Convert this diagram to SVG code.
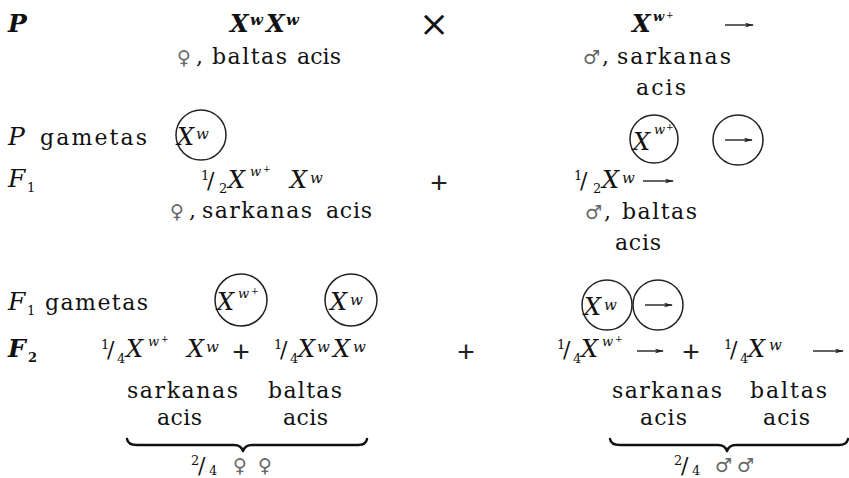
<svg xmlns="http://www.w3.org/2000/svg" width="849" height="478" viewBox="0 0 849 478">
<style>
text{fill:#111;font-family:"DejaVu Serif",serif}
.t{font-size:22px;letter-spacing:0}
.x{font-size:24px;font-style:italic}
.xb{font-size:24px;font-style:italic;font-weight:bold}
.w{font-size:15px;font-style:italic}
.ws{font-size:13px;font-style:italic}
.pl{font-size:9px}
.d{font-size:13px}
.lab{font-size:25px;font-style:italic}
.sym{font-family:"DejaVu Sans",sans-serif;font-size:19px;fill:#666}
.op{font-family:"Liberation Sans",sans-serif;font-size:30px;text-anchor:middle;fill:#222}
.c{fill:none;stroke:#222;stroke-width:1.5}
.ar{stroke:#222;stroke-width:1.4;fill:none}
.br{fill:none;stroke:#111;stroke-width:2.4;stroke-linecap:round;stroke-linejoin:round}
</style>
<defs>
<marker id="ah" markerUnits="userSpaceOnUse" markerWidth="9" markerHeight="6" refX="8" refY="3" orient="auto"><path d="M0,0.8 L9,3 L0,5.2 L2,3 Z" fill="#222"/></marker>
</defs>

<g id="row-p">
<text class="lab" x="8" y="32" font-weight="bold" font-size="26">P</text>
<text class="xb" x="230" y="32">X</text><text class="w" x="250" y="25" font-weight="bold">w</text>
<text class="xb" x="266" y="32">X</text><text class="w" x="286" y="25" font-weight="bold">w</text>
<text x="434" y="36" font-family="Liberation Serif, serif" font-size="36" text-anchor="middle" fill="#444">×</text>
<text class="xb" x="632" y="32">X</text><text class="ws" x="653" y="21" font-weight="bold">w</text><text class="pl" x="666" y="18">+</text>
<line class="ar" x1="725" y1="25" x2="753" y2="25" marker-end="url(#ah)"/>
</g>

<g id="p-female">
<text class="sym" x="177" y="64">♀</text><text class="t" x="196" y="64">,</text>
<text class="t" x="212" y="64" textLength="75" lengthAdjust="spacing">baltas</text>
<text class="t" x="297" y="64" textLength="44" lengthAdjust="spacing">acis</text>
</g>
<g id="p-male">
<text class="sym" x="583" y="64">♂</text><text class="t" x="602" y="64">,</text>
<text class="t" x="617" y="64" textLength="114" lengthAdjust="spacing">sarkanas</text>
<text class="t" x="636" y="95" textLength="50" lengthAdjust="spacing">acis</text>
</g>

<g id="p-gametes">
<text class="lab" x="8" y="145">P</text>
<text class="t" x="40" y="145" textLength="107" lengthAdjust="spacing">gametas</text>
<circle class="c" cx="201" cy="135" r="25"/>
<text class="x" x="177" y="145">X</text><text class="w" x="196" y="139">w</text>
<circle class="c" cx="654" cy="139" r="24"/>
<text class="x" x="633" y="150">X</text><text class="ws" x="654" y="134">w</text><text class="pl" x="666" y="130">+</text>
<circle class="c" cx="738" cy="140" r="25"/>
<line class="ar" x1="725" y1="140" x2="752" y2="140" marker-end="url(#ah)"/>
</g>

<g id="row-f1">
<text class="lab" x="8" y="187">F</text><text class="d" x="27" y="192">1</text>
<text class="d" x="201" y="180">1</text><text class="t" x="207" y="188">/</text><text class="d" x="219" y="193">2</text>
<text class="x" x="228" y="188">X</text><text class="ws" x="250" y="176">w</text><text class="pl" x="263" y="172">+</text>
<text class="x" x="290" y="188">X</text><text class="w" x="310" y="183">w</text>
<text class="op" x="439" y="193">+</text>
<text class="d" x="574" y="180">1</text><text class="t" x="580" y="188">/</text><text class="d" x="593" y="193">2</text>
<text class="x" x="602" y="188">X</text><text class="w" x="622" y="183">w</text>
<line class="ar" x1="643" y1="181" x2="673" y2="181" marker-end="url(#ah)"/>
</g>

<g id="f1-female">
<text class="sym" x="170" y="218">♀</text><text class="t" x="189" y="218">,</text>
<text class="t" x="202" y="218" textLength="110" lengthAdjust="spacing">sarkanas</text>
<text class="t" x="326" y="218" textLength="46" lengthAdjust="spacing">acis</text>
</g>
<g id="f1-male">
<text class="sym" x="585" y="219">♂</text><text class="t" x="604" y="219">,</text>
<text class="t" x="622" y="219" textLength="75" lengthAdjust="spacing">baltas</text>
<text class="t" x="615" y="250" textLength="46" lengthAdjust="spacing">acis</text>
</g>

<g id="f1-gametes">
<text class="lab" x="8" y="310">F</text><text class="d" x="27" y="315">1</text>
<text class="t" x="45" y="310" textLength="103" lengthAdjust="spacing">gametas</text>
<circle class="c" cx="241" cy="300" r="26"/>
<text class="x" x="217" y="310">X</text><text class="ws" x="238" y="298">w</text><text class="pl" x="251" y="294">+</text>
<circle class="c" cx="351" cy="300" r="26"/>
<text class="x" x="330" y="310">X</text><text class="w" x="350" y="305">w</text>
<circle class="c" cx="607" cy="305" r="25"/>
<text class="x" x="584" y="315">X</text><text class="w" x="604" y="310">w</text>
<circle class="c" cx="658" cy="305" r="25"/>
<line class="ar" x1="645" y1="305" x2="672" y2="305" marker-end="url(#ah)"/>
</g>

<g id="row-f2">
<text class="lab" x="8" y="357" font-weight="bold">F</text><text class="d" x="28" y="362" font-weight="bold" font-size="15">2</text>
<text class="d" x="101" y="349">1</text><text class="t" x="107" y="357">/</text><text class="d" x="117" y="363">4</text>
<text class="x" x="126" y="357">X</text><text class="ws" x="148" y="346">w</text><text class="pl" x="161" y="342">+</text>
<text class="x" x="187" y="357">X</text><text class="w" x="206" y="352">w</text>
<text class="op" x="241" y="362">+</text>
<text class="d" x="274" y="349">1</text><text class="t" x="280" y="357">/</text><text class="d" x="290" y="363">4</text>
<text class="x" x="298" y="357">X</text><text class="w" x="317" y="352">w</text>
<text class="x" x="333" y="357">X</text><text class="w" x="353" y="352">w</text>
<text class="op" x="466" y="362">+</text>
<text class="d" x="557" y="349">1</text><text class="t" x="563" y="357">/</text><text class="d" x="573" y="363">4</text>
<text class="x" x="581" y="357">X</text><text class="ws" x="602" y="346">w</text><text class="pl" x="615" y="342">+</text>
<line class="ar" x1="637" y1="351" x2="663" y2="351" marker-end="url(#ah)"/>
<text class="op" x="691" y="362">+</text>
<text class="d" x="724" y="349">1</text><text class="t" x="730" y="357">/</text><text class="d" x="740" y="363">4</text>
<text class="x" x="748" y="357">X</text><text class="w" x="769" y="350">w</text>
<line class="ar" x1="813" y1="351" x2="843" y2="351" marker-end="url(#ah)"/>
</g>

<g id="f2-female">
<text class="t" x="127" y="398" textLength="111" lengthAdjust="spacing">sarkanas</text>
<text class="t" x="268" y="398" textLength="74" lengthAdjust="spacing">baltas</text>
<text class="t" x="157" y="425" textLength="45" lengthAdjust="spacing">acis</text>
<text class="t" x="283" y="425" textLength="45" lengthAdjust="spacing">acis</text>
<path class="br" d="M127,439 Q128,445 137,445 L234,445 Q241,445 243,451 Q245,445 252,445 L358,445 Q366,445 367,439"/>
<text class="d" x="191" y="465">2</text><text class="t" x="198" y="473" font-size="20">/</text><text class="d" x="209" y="475">4</text>
<text class="sym" x="233" y="472">♀</text><text class="sym" x="258" y="472">♀</text>
</g>

<g id="f2-male">
<text class="t" x="612" y="398" textLength="110" lengthAdjust="spacing">sarkanas</text>
<text class="t" x="750" y="398" textLength="77" lengthAdjust="spacing">baltas</text>
<text class="t" x="640" y="425" textLength="47" lengthAdjust="spacing">acis</text>
<text class="t" x="763" y="425" textLength="47" lengthAdjust="spacing">acis</text>
<path class="br" d="M610,439 Q611,445 620,445 L718,445 Q725,445 727,451 Q729,445 736,445 L839,445 Q847,445 848,439"/>
<text class="d" x="674" y="465">2</text><text class="t" x="681" y="473" font-size="20">/</text><text class="d" x="692" y="475">4</text>
<text class="sym" x="715" y="472">♂</text><text class="sym" x="737" y="472">♂</text>
</g>
</svg>
